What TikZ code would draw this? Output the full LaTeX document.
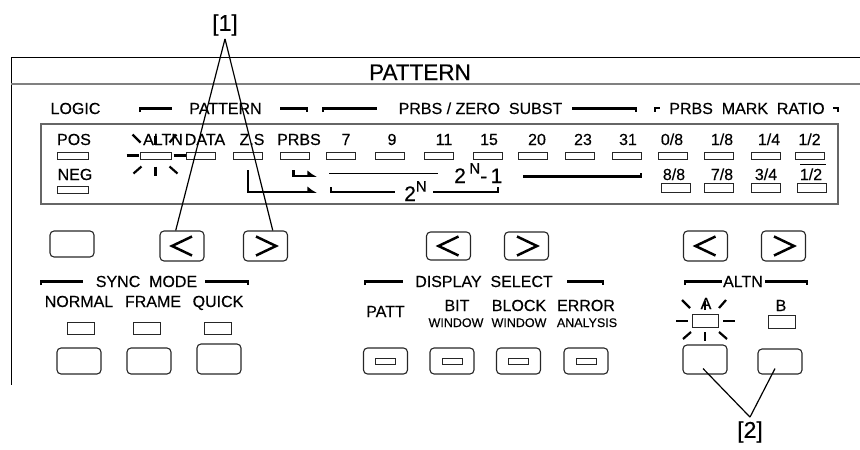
\documentclass[tikz,border=0pt]{standalone}
\usepackage{fontspec}
\setmainfont{Liberation Sans}[FakeBold=0.4]
\usepackage{tikz}
\usetikzlibrary{
  calc,
  positioning,
  arrows.meta
}
\tikzset{>=latex}
\tikzset{
  txt/.style={font=\fontsize{16}{17}\selectfont, inner sep=0pt},
  tiny/.style={font=\fontsize{12.5}{13}\selectfont, inner sep=0pt},
  big/.style={font=\fontsize{21}{22}\selectfont, inner sep=0pt},
  led/.style={draw=black!85, line width=0.9pt, minimum width=29pt, minimum height=7pt, inner sep=0pt},
  key/.style={draw=black!85, line width=1.1pt, rounded corners=4pt, minimum width=44pt, minimum height=26pt, inner sep=0pt},
  bar/.style={line width=2.6pt},
  ray/.style={line width=2.2pt},
  glyph/.style={line width=2.5pt},
  flow/.style={line width=2.4pt, -{Latex[left,length=8pt,width=12pt]}},
  callout/.style={line width=1.2pt}
}
\newcommand{\supN}{\raisebox{0.45em}{\fontsize{15}{15}\selectfont N}}
\newcommand{\keyleft}[1]{\draw[glyph] ($(#1)+(10,-9.5)$) -- ($(#1)+(-10,0)$) -- ($(#1)+(10,9.5)$);}
\newcommand{\keyright}[1]{\draw[glyph] ($(#1)+(-9.5,-9.5)$) -- ($(#1)+(10.5,0)$) -- ($(#1)+(-9.5,9.5)$);}
\newcommand{\blink}[1]{%
	\draw[ray] ($(#1)+(-29,0)$) -- ($(#1)+(-17,0)$);
	\draw[ray] ($(#1)+(18,0)$) -- ($(#1)+(30,0)$);
	\draw[ray] ($(#1)+(0,11)$) -- ($(#1)+(0,20)$);
	\draw[ray] ($(#1)+(0,-11)$) -- ($(#1)+(0,-20)$);
	\draw[ray] ($(#1)+(-14,11)$) -- ($(#1)+(-22,18)$);
	\draw[ray] ($(#1)+(14,11)$) -- ($(#1)+(22,18)$);
	\draw[ray] ($(#1)+(-15,-13)$) -- ($(#1)+(-23,-21)$);
	\draw[ray] ($(#1)+(14,-13)$) -- ($(#1)+(21,-21)$);
}

\begin{document}
\begin{tikzpicture}[x=1pt,y=-1pt]
			\useasboundingbox (0,0) rectangle (860,450);

			\draw[line width=1pt] (860,57) -- (11,57) -- (11,385);
			\draw[gray, line width=1.3pt] (11,84) -- (860,84);
			\node[font=\fontsize{22.5}{24}\selectfont, inner sep=0pt, anchor=base] (title) at (420,80) {PATTERN};

			\node[txt, anchor=base] (hlogic) at (75.5,114) {LOGIC};
			\node[txt, anchor=base] (hpatt) at (225.5,114) {PATTERN};
			\node[txt, anchor=base] (hprbs) at (480.5,114) {PRBS / ZERO\ \ SUBST};
			\node[txt, anchor=base] (hmark) at (747,114) {PRBS\ \ MARK\ \ RATIO};
			\draw[bar] (140,112) -- (140,108.5) -- (172,108.5);
			\draw[bar] (280,108.5) -- (307,108.5) -- (307,112);
			\draw[bar] (323,112) -- (323,108.5) -- (377,108.5);
			\draw[bar] (572,108.5) -- (636,108.5) -- (636,112);
			\draw[bar] (655,111.5) -- (655,108) -- (660,108);
			\draw[bar] (833,108) -- (838,108) -- (838,111.5);

			\draw[gray!80!black, line width=1.4pt] (41,124) rectangle (838,204);

			\node[led, minimum width=31pt] (pos) at (72.5,155.5) {};
			\node[led, minimum width=31pt] (neg) at (72.5,190) {};
			\node[led, minimum width=31pt] (alt) at (155.5,155.5) {};
			\node[led] (data) at (201,155.5) {};
			\node[led] (zs) at (248,155.5) {};
			\node[led] (prbs) at (294.5,155.5) {};
			\node[led] (p7) at (341,155.5) {};
			\node[led] (p9) at (389.5,155.5) {};
			\node[led] (p11) at (439,155.5) {};
			\node[led] (p15) at (488,155.5) {};
			\node[led] (p20) at (533,155.5) {};
			\node[led] (p23) at (580,155.5) {};
			\node[led] (p31) at (627,155.5) {};
			\node[led] (m08) at (673,155.5) {};
			\node[led] (m18) at (718.5,155.5) {};
			\node[led] (m14) at (766,155.5) {};
			\node[led] (m12) at (810,155.5) {};
			\node[led, minimum height=9pt] (m88) at (675.5,188) {};
			\node[led, minimum height=9pt] (m78) at (719,188) {};
			\node[led, minimum height=9pt] (m34) at (766,188) {};
			\node[led, minimum height=9pt] (m12n) at (812,188) {};

			\node[txt, anchor=base] (lpos) at (74,145) {POS};
			\node[txt, anchor=base] (lneg) at (75,180) {NEG};
			\node[txt, anchor=base] (lalt) at (163,145) {ALTN};
			\node[txt, anchor=base] (ldata) at (205,145) {DATA};
			\node[txt, anchor=base] (lzs) at (252,145) {Z.S};
			\node[txt, anchor=base] (lprbs) at (299,145) {PRBS};
			\node[txt, anchor=base] (l7) at (346,145) {7};
			\node[txt, anchor=base] (l9) at (392,145) {9};
			\node[txt, anchor=base] (l11) at (444,145) {11};
			\node[txt, anchor=base] (l15) at (489,145) {15};
			\node[txt, anchor=base] (l20) at (537,145) {20};
			\node[txt, anchor=base] (l23) at (583,145) {23};
			\node[txt, anchor=base] (l31) at (628,145) {31};
			\node[txt, anchor=base] (l08) at (672,145) {0/8};
			\node[txt, anchor=base] (l18) at (722,145) {1/8};
			\node[txt, anchor=base] (l14) at (769,145) {1/4};
			\node[txt, anchor=base] (l12) at (809.5,145) {1/2};
			\node[txt, anchor=base] (l88) at (674,180) {8/8};
			\node[txt, anchor=base] (l78) at (722,180) {7/8};
			\node[txt, anchor=base] (l34) at (766,180) {3/4};
			\node[txt, anchor=base] (l12n) at (811,180) {1/2};
			\draw[line width=1pt] (800,164) -- (826,164);

			\blink{alt}

			\coordinate (zsend) at (317,192);
			\coordinate (prbsend) at (317,176);
			\draw[flow] ($(zs.south)+(0,11)$) |- (zsend);
			\draw[flow] ($(prbs.south)+(-1,11)$) |- (prbsend);

			\node[big, anchor=base west] (pw1) at (454,183) {2\,\supN-\,1};
			\draw[line width=1.2pt] (329,173.5) -- (438,173.5);
			\draw[bar] (523,176.5) -- (641,176.5) -- (641,172.5);
			\node[big, anchor=base west] (pw2) at (404,201) {2\supN};
			\draw[bar] (331,187) -- (331,192) -- (395,192);
			\draw[bar] (433,192) -- (498,192) -- (498,186.5);

			\node[key] (blank) at (72,244) {};
			\node[key, minimum height=30pt] (patL) at (182,246) {};
			\node[key, minimum height=30pt] (patR) at (265.5,246) {};
			\node[key, minimum height=28pt] (dspL) at (448.5,246) {};
			\node[key, minimum height=28pt] (dspR) at (526.5,246) {};
			\node[key, minimum height=30pt] (altL) at (705.5,246) {};
			\node[key, minimum height=30pt] (altR) at (783.5,246) {};
			\keyleft{patL}
			\keyright{patR}
			\keyleft{dspL}
			\keyright{dspR}
			\keyleft{altL}
			\keyright{altR}

			\draw[bar] (41,285) -- (41,281.5) -- (83,281.5);
			\draw[bar] (205,281.5) -- (248,281.5) -- (248,285);
			\node[txt, anchor=base] (hsync) at (146.5,287) {SYNC\ \ MODE};
			\node[txt, anchor=base] (lnormal) at (79,307) {NORMAL};
			\node[txt, anchor=base] (lframe) at (153,307) {FRAME};
			\node[txt, anchor=base] (lquick) at (218,307) {QUICK};
			\node[led, minimum width=27pt, minimum height=12pt] (snormal) at (80.5,328) {};
			\node[led, minimum width=27pt, minimum height=12pt] (sframe) at (147,328) {};
			\node[led, minimum width=27pt, minimum height=12pt] (squick) at (217.5,328) {};
			\node[key] (knormal) at (79,361) {};
			\node[key] (kframe) at (149,361) {};
			\node[key, minimum height=30pt] (kquick) at (219,359) {};

			\draw[bar] (365,285) -- (365,281.5) -- (403,281.5);
			\draw[bar] (567,281.5) -- (603,281.5) -- (603,285);
			\node[txt, anchor=base] (hdisp) at (484,287) {DISPLAY\ \ SELECT};
			\node[txt, anchor=base] (lpatt) at (385.5,317) {PATT};
			\node[txt, anchor=base] (lbit) at (457,311) {BIT};
			\node[txt, anchor=base] (lblock) at (519,311) {BLOCK};
			\node[txt, anchor=base] (lerror) at (586,311) {ERROR};
			\node[tiny, anchor=base] (wbit) at (456,327) {WINDOW};
			\node[tiny, anchor=base] (wblock) at (519,327) {WINDOW};
			\node[tiny, anchor=base] (werror) at (587,327) {ANALYSIS};
			\node[key] (kpatt) at (385.5,361) {};
			\node[key] (kbit) at (452,361) {};
			\node[key] (kblock) at (518.5,361) {};
			\node[key] (kerror) at (586,361) {};
			\node[led, minimum width=20pt, minimum height=6pt] (dpatt) at (kpatt) {};
			\node[led, minimum width=20pt, minimum height=6pt] (dbit) at (kbit) {};
			\node[led, minimum width=20pt, minimum height=6pt] (dblock) at (kblock) {};
			\node[led, minimum width=20pt, minimum height=6pt] (derror) at (kerror) {};

			\draw[bar] (685,285) -- (685,281.5) -- (722,281.5);
			\draw[bar] (765,281.5) -- (807,281.5) -- (807,285);
			\node[txt, anchor=base] (haltn) at (743,287) {ALTN};
			\node[led, minimum width=26pt, minimum height=13pt] (aled) at (705,321) {};
			\node[led, minimum width=27pt, minimum height=13pt] (bled) at (781.5,321.5) {};
			\node[txt, anchor=base] (la) at (706,309) {A};
			\node[txt, anchor=base] (lb) at (781,311) {B};
			\blink{aled}
			\node[key, minimum height=29pt] (altA) at (705,359.5) {};
			\node[key, minimum height=25pt] (altB) at (780,361.5) {};

			\node[big, font=\fontsize{23}{24}\selectfont] (c1) at (225,25) {[1]};
			\draw[callout] ($(c1.south)+(0,3)$) -- (patL.112);
			\draw[callout] ($(c1.south)+(0,3)$) -- (patR.65);
			\node[big, font=\fontsize{23}{24}\selectfont] (c2) at (750,432) {[2]};
			\draw[callout] ($(c2.north)+(0,-4)$) -- ($(altA.south)+(-2,-6)$);
			\draw[callout] ($(c2.north)+(0,-4)$) -- ($(altB.south)+(-5,-6)$);
		\end{tikzpicture}
\end{document}
